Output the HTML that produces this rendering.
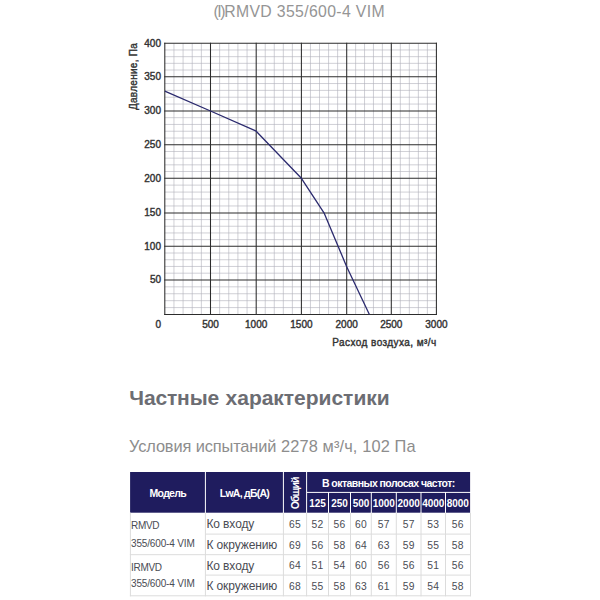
<!DOCTYPE html>
<html><head><meta charset="utf-8"><title>chart</title>
<style>
html,body{margin:0;padding:0;background:#fff;}
body{width:600px;height:600px;position:relative;overflow:hidden;font-family:"Liberation Sans",sans-serif;}
.title{position:absolute;left:0;top:1.7px;width:598.4px;text-align:center;font-size:17px;color:#959595;letter-spacing:0.37px;white-space:nowrap;transform:scaleX(0.93);transform-origin:50% 50%;}
svg{position:absolute;left:0;top:0;}
.mn{stroke:#b0b0bb;stroke-width:0.6;}
.mj{stroke:#2c2c2c;stroke-width:1.05;}
.cv{fill:none;stroke:#2b2a6e;stroke-width:1.3;stroke-linejoin:round;}
.lb{font-family:"Liberation Sans",sans-serif;font-size:10px;font-weight:normal;fill:#333;stroke:#333;stroke-width:0.4px;}
.h1{position:absolute;left:129.3px;top:385.6px;font-size:21px;letter-spacing:-0.02px;font-weight:bold;color:#6c6d73;word-spacing:0.8px;white-space:nowrap;}
.sub{position:absolute;left:129.3px;top:437.0px;font-size:16.6px;letter-spacing:0px;color:#8d8d8d;white-space:nowrap;transform:scaleX(0.987);transform-origin:0 50%;}

.hc,.bl,.bn,.bm{position:absolute;white-space:nowrap;}
.hc{color:#fff;text-align:center;font-weight:bold;font-size:10.5px;}
.hf{font-size:10px;letter-spacing:-0.05px;}
.rot{position:absolute;left:50%;top:50%;line-height:12px;transform:translate(-50%,-50%) translate(0.3px,1.3px) rotate(-90deg);letter-spacing:-0.9px;font-size:10.5px;}
.bl{font-size:12px;letter-spacing:-0.1px;color:#4a4c54;text-align:left;}
.bn{font-size:10.3px;letter-spacing:0.2px;color:#4a4c54;text-align:center;}
.bm{font-size:10px;letter-spacing:-0.3px;color:#4a4c54;text-align:left;}
</style></head><body>
<div class="title"><span style="letter-spacing:-1.5px">(I)</span>RMVD 355/600-4 VIM</div>
<svg width="600" height="600" viewBox="0 0 600 600">
<line x1="173.94" y1="43.3" x2="173.94" y2="314.5" class="mn"/>
<line x1="183.08" y1="43.3" x2="183.08" y2="314.5" class="mn"/>
<line x1="192.22" y1="43.3" x2="192.22" y2="314.5" class="mn"/>
<line x1="201.36" y1="43.3" x2="201.36" y2="314.5" class="mn"/>
<line x1="219.64" y1="43.3" x2="219.64" y2="314.5" class="mn"/>
<line x1="228.78" y1="43.3" x2="228.78" y2="314.5" class="mn"/>
<line x1="237.92" y1="43.3" x2="237.92" y2="314.5" class="mn"/>
<line x1="247.06" y1="43.3" x2="247.06" y2="314.5" class="mn"/>
<line x1="265.24" y1="43.3" x2="265.24" y2="314.5" class="mn"/>
<line x1="274.28" y1="43.3" x2="274.28" y2="314.5" class="mn"/>
<line x1="283.32" y1="43.3" x2="283.32" y2="314.5" class="mn"/>
<line x1="292.36" y1="43.3" x2="292.36" y2="314.5" class="mn"/>
<line x1="310.46" y1="43.3" x2="310.46" y2="314.5" class="mn"/>
<line x1="319.52" y1="43.3" x2="319.52" y2="314.5" class="mn"/>
<line x1="328.58" y1="43.3" x2="328.58" y2="314.5" class="mn"/>
<line x1="337.64" y1="43.3" x2="337.64" y2="314.5" class="mn"/>
<line x1="355.62" y1="43.3" x2="355.62" y2="314.5" class="mn"/>
<line x1="364.54" y1="43.3" x2="364.54" y2="314.5" class="mn"/>
<line x1="373.46" y1="43.3" x2="373.46" y2="314.5" class="mn"/>
<line x1="382.38" y1="43.3" x2="382.38" y2="314.5" class="mn"/>
<line x1="400.32" y1="43.3" x2="400.32" y2="314.5" class="mn"/>
<line x1="409.34" y1="43.3" x2="409.34" y2="314.5" class="mn"/>
<line x1="418.36" y1="43.3" x2="418.36" y2="314.5" class="mn"/>
<line x1="427.38" y1="43.3" x2="427.38" y2="314.5" class="mn"/>
<line x1="164.8" y1="49.98" x2="436.4" y2="49.98" class="mn"/>
<line x1="164.8" y1="56.66" x2="436.4" y2="56.66" class="mn"/>
<line x1="164.8" y1="63.34" x2="436.4" y2="63.34" class="mn"/>
<line x1="164.8" y1="70.02" x2="436.4" y2="70.02" class="mn"/>
<line x1="164.8" y1="83.54" x2="436.4" y2="83.54" class="mn"/>
<line x1="164.8" y1="90.38" x2="436.4" y2="90.38" class="mn"/>
<line x1="164.8" y1="97.22" x2="436.4" y2="97.22" class="mn"/>
<line x1="164.8" y1="104.06" x2="436.4" y2="104.06" class="mn"/>
<line x1="164.8" y1="117.68" x2="436.4" y2="117.68" class="mn"/>
<line x1="164.8" y1="124.46" x2="436.4" y2="124.46" class="mn"/>
<line x1="164.8" y1="131.24" x2="436.4" y2="131.24" class="mn"/>
<line x1="164.8" y1="138.02" x2="436.4" y2="138.02" class="mn"/>
<line x1="164.8" y1="151.48" x2="436.4" y2="151.48" class="mn"/>
<line x1="164.8" y1="158.16" x2="436.4" y2="158.16" class="mn"/>
<line x1="164.8" y1="164.84" x2="436.4" y2="164.84" class="mn"/>
<line x1="164.8" y1="171.52" x2="436.4" y2="171.52" class="mn"/>
<line x1="164.8" y1="185.14" x2="436.4" y2="185.14" class="mn"/>
<line x1="164.8" y1="192.08" x2="436.4" y2="192.08" class="mn"/>
<line x1="164.8" y1="199.02" x2="436.4" y2="199.02" class="mn"/>
<line x1="164.8" y1="205.96" x2="436.4" y2="205.96" class="mn"/>
<line x1="164.8" y1="219.58" x2="436.4" y2="219.58" class="mn"/>
<line x1="164.8" y1="226.26" x2="436.4" y2="226.26" class="mn"/>
<line x1="164.8" y1="232.94" x2="436.4" y2="232.94" class="mn"/>
<line x1="164.8" y1="239.62" x2="436.4" y2="239.62" class="mn"/>
<line x1="164.8" y1="253.02" x2="436.4" y2="253.02" class="mn"/>
<line x1="164.8" y1="259.74" x2="436.4" y2="259.74" class="mn"/>
<line x1="164.8" y1="266.46" x2="436.4" y2="266.46" class="mn"/>
<line x1="164.8" y1="273.18" x2="436.4" y2="273.18" class="mn"/>
<line x1="164.8" y1="286.82" x2="436.4" y2="286.82" class="mn"/>
<line x1="164.8" y1="293.74" x2="436.4" y2="293.74" class="mn"/>
<line x1="164.8" y1="300.66" x2="436.4" y2="300.66" class="mn"/>
<line x1="164.8" y1="307.58" x2="436.4" y2="307.58" class="mn"/>
<line x1="164.80" y1="42.699999999999996" x2="164.80" y2="315.1" class="mj"/>
<line x1="210.50" y1="42.699999999999996" x2="210.50" y2="315.1" class="mj"/>
<line x1="256.20" y1="42.699999999999996" x2="256.20" y2="315.1" class="mj"/>
<line x1="301.40" y1="42.699999999999996" x2="301.40" y2="315.1" class="mj"/>
<line x1="346.70" y1="42.699999999999996" x2="346.70" y2="315.1" class="mj"/>
<line x1="391.30" y1="42.699999999999996" x2="391.30" y2="315.1" class="mj"/>
<line x1="436.40" y1="42.699999999999996" x2="436.40" y2="315.1" class="mj"/>
<line x1="164.20000000000002" y1="43.30" x2="437.0" y2="43.30" class="mj"/>
<line x1="164.20000000000002" y1="76.70" x2="437.0" y2="76.70" class="mj"/>
<line x1="164.20000000000002" y1="110.90" x2="437.0" y2="110.90" class="mj"/>
<line x1="164.20000000000002" y1="144.80" x2="437.0" y2="144.80" class="mj"/>
<line x1="164.20000000000002" y1="178.20" x2="437.0" y2="178.20" class="mj"/>
<line x1="164.20000000000002" y1="212.90" x2="437.0" y2="212.90" class="mj"/>
<line x1="164.20000000000002" y1="246.30" x2="437.0" y2="246.30" class="mj"/>
<line x1="164.20000000000002" y1="279.90" x2="437.0" y2="279.90" class="mj"/>
<line x1="164.20000000000002" y1="314.50" x2="437.0" y2="314.50" class="mj"/>
<polyline class="cv" points="164.8,91.2 210.5,111.0 255.7,130.8 301.4,178.3 324,212.8 346.7,266.7 369.4,314.5"/>
<text x="161" y="46.80" text-anchor="end" class="lb">400</text>
<text x="161" y="80.20" text-anchor="end" class="lb">350</text>
<text x="161" y="114.40" text-anchor="end" class="lb">300</text>
<text x="161" y="148.30" text-anchor="end" class="lb">250</text>
<text x="161" y="181.70" text-anchor="end" class="lb">200</text>
<text x="161" y="216.40" text-anchor="end" class="lb">150</text>
<text x="161" y="249.80" text-anchor="end" class="lb">100</text>
<text x="161" y="283.40" text-anchor="end" class="lb">50</text>
<text x="210.50" y="328.3" text-anchor="middle" class="lb">500</text>
<text x="256.20" y="328.3" text-anchor="middle" class="lb">1000</text>
<text x="301.40" y="328.3" text-anchor="middle" class="lb">1500</text>
<text x="346.70" y="328.3" text-anchor="middle" class="lb">2000</text>
<text x="391.30" y="328.3" text-anchor="middle" class="lb">2500</text>
<text x="436.40" y="328.3" text-anchor="middle" class="lb">3000</text>
<text x="158.3" y="328.3" text-anchor="middle" class="lb">0</text>
<text x="436.7" y="346.3" text-anchor="end" class="lb" style="letter-spacing:0.43px">Расход воздуха, м³/ч</text>
<text transform="translate(136.5,110) rotate(-90)" class="lb" style="letter-spacing:0.27px">Давление, Па</text>
<rect x="130.10" y="472.00" width="74.80" height="40.70" fill="#1f1c5e"/>
<rect x="205.90" y="472.00" width="77.00" height="40.70" fill="#1f1c5e"/>
<rect x="283.90" y="472.00" width="22.20" height="40.70" fill="#1f1c5e"/>
<rect x="307.10" y="472.00" width="163.00" height="19.90" fill="#1f1c5e"/>
<rect x="307.10" y="492.90" width="20.90" height="19.80" fill="#1f1c5e"/>
<rect x="329.00" y="492.90" width="21.00" height="19.80" fill="#1f1c5e"/>
<rect x="351.00" y="492.90" width="19.80" height="19.80" fill="#1f1c5e"/>
<rect x="371.80" y="492.90" width="24.00" height="19.80" fill="#1f1c5e"/>
<rect x="396.80" y="492.90" width="23.70" height="19.80" fill="#1f1c5e"/>
<rect x="421.50" y="492.90" width="23.50" height="19.80" fill="#1f1c5e"/>
<rect x="446.00" y="492.90" width="24.10" height="19.80" fill="#1f1c5e"/>
<line x1="205.40" y1="534.10" x2="471.00" y2="534.10" stroke="#dcdcdc" stroke-width="1"/>
<line x1="129.90" y1="554.70" x2="471.00" y2="554.70" stroke="#dcdcdc" stroke-width="1"/>
<line x1="205.40" y1="575.10" x2="471.00" y2="575.10" stroke="#dcdcdc" stroke-width="1"/>
<line x1="129.90" y1="595.80" x2="471.00" y2="595.80" stroke="#dcdcdc" stroke-width="1"/>
<line x1="130.40" y1="512.70" x2="130.40" y2="596.30" stroke="#dcdcdc" stroke-width="1"/>
<line x1="205.40" y1="512.70" x2="205.40" y2="596.30" stroke="#dcdcdc" stroke-width="1"/>
<line x1="283.40" y1="512.70" x2="283.40" y2="596.30" stroke="#dcdcdc" stroke-width="1"/>
<line x1="306.60" y1="512.70" x2="306.60" y2="596.30" stroke="#dcdcdc" stroke-width="1"/>
<line x1="328.50" y1="512.70" x2="328.50" y2="596.30" stroke="#dcdcdc" stroke-width="1"/>
<line x1="350.50" y1="512.70" x2="350.50" y2="596.30" stroke="#dcdcdc" stroke-width="1"/>
<line x1="371.30" y1="512.70" x2="371.30" y2="596.30" stroke="#dcdcdc" stroke-width="1"/>
<line x1="396.30" y1="512.70" x2="396.30" y2="596.30" stroke="#dcdcdc" stroke-width="1"/>
<line x1="421.00" y1="512.70" x2="421.00" y2="596.30" stroke="#dcdcdc" stroke-width="1"/>
<line x1="445.50" y1="512.70" x2="445.50" y2="596.30" stroke="#dcdcdc" stroke-width="1"/>
<line x1="470.50" y1="512.70" x2="470.50" y2="596.30" stroke="#dcdcdc" stroke-width="1"/>
</svg>
<div class="h1"><span style="letter-spacing:-0.15px">Частные</span> характеристики</div>
<div class="sub"><span style="letter-spacing:-0.12px">Условия испытаний</span><span style="letter-spacing:0.12px"> 2278 м³/ч, 102 Па</span></div>
<div class="hc" style="left:130.10px;top:472.80px;width:75.30px;height:40.70px;line-height:40.70px;"><span style="letter-spacing:-0.7px">Модель</span></div>
<div class="hc" style="left:205.40px;top:472.80px;width:78.00px;height:40.70px;line-height:40.70px;"><span style="letter-spacing:-0.75px">LwA, дБ(A)</span></div>
<div class="hc" style="left:283.40px;top:472.00px;width:23.20px;height:40.70px;line-height:40.70px;"><span class="rot">Общий</span></div>
<div class="hc" style="left:306.60px;top:472.80px;width:163.50px;height:20.40px;line-height:20.40px;"><span style="letter-spacing:-0.55px">В октавных полосах частот:</span></div>
<div class="hc hf" style="left:303.60px;top:493.50px;width:27.90px;height:20.30px;line-height:20.30px;">125</div>
<div class="hc hf" style="left:325.50px;top:493.50px;width:28.00px;height:20.30px;line-height:20.30px;">250</div>
<div class="hc hf" style="left:347.50px;top:493.50px;width:26.80px;height:20.30px;line-height:20.30px;">500</div>
<div class="hc hf" style="left:368.30px;top:493.50px;width:31.00px;height:20.30px;line-height:20.30px;">1000</div>
<div class="hc hf" style="left:393.30px;top:493.50px;width:30.70px;height:20.30px;line-height:20.30px;">2000</div>
<div class="hc hf" style="left:418.00px;top:493.50px;width:30.50px;height:20.30px;line-height:20.30px;">4000</div>
<div class="hc hf" style="left:442.50px;top:493.50px;width:30.60px;height:20.30px;line-height:20.30px;">8000</div>
<div class="bl" style="left:206.40px;top:513.70px;width:82.00px;height:21.40px;line-height:21.40px;">Ко входу</div>
<div class="bn" style="left:283.40px;top:513.70px;width:23.20px;height:21.40px;line-height:21.40px;">65</div>
<div class="bn" style="left:306.60px;top:513.70px;width:21.90px;height:21.40px;line-height:21.40px;">52</div>
<div class="bn" style="left:328.50px;top:513.70px;width:22.00px;height:21.40px;line-height:21.40px;">56</div>
<div class="bn" style="left:350.50px;top:513.70px;width:20.80px;height:21.40px;line-height:21.40px;">60</div>
<div class="bn" style="left:371.30px;top:513.70px;width:25.00px;height:21.40px;line-height:21.40px;">57</div>
<div class="bn" style="left:396.30px;top:513.70px;width:24.70px;height:21.40px;line-height:21.40px;">57</div>
<div class="bn" style="left:421.00px;top:513.70px;width:24.50px;height:21.40px;line-height:21.40px;">53</div>
<div class="bn" style="left:445.50px;top:513.70px;width:24.60px;height:21.40px;line-height:21.40px;">56</div>
<div class="bl" style="left:206.40px;top:535.10px;width:82.00px;height:20.60px;line-height:20.60px;">К окружению</div>
<div class="bn" style="left:283.40px;top:535.70px;width:23.20px;height:20.60px;line-height:20.60px;">69</div>
<div class="bn" style="left:306.60px;top:535.70px;width:21.90px;height:20.60px;line-height:20.60px;">56</div>
<div class="bn" style="left:328.50px;top:535.70px;width:22.00px;height:20.60px;line-height:20.60px;">58</div>
<div class="bn" style="left:350.50px;top:535.70px;width:20.80px;height:20.60px;line-height:20.60px;">64</div>
<div class="bn" style="left:371.30px;top:535.70px;width:25.00px;height:20.60px;line-height:20.60px;">63</div>
<div class="bn" style="left:396.30px;top:535.70px;width:24.70px;height:20.60px;line-height:20.60px;">59</div>
<div class="bn" style="left:421.00px;top:535.70px;width:24.50px;height:20.60px;line-height:20.60px;">55</div>
<div class="bn" style="left:445.50px;top:535.70px;width:24.60px;height:20.60px;line-height:20.60px;">58</div>
<div class="bl" style="left:206.40px;top:555.70px;width:82.00px;height:20.40px;line-height:20.40px;">Ко входу</div>
<div class="bn" style="left:283.40px;top:556.30px;width:23.20px;height:20.40px;line-height:20.40px;">64</div>
<div class="bn" style="left:306.60px;top:556.30px;width:21.90px;height:20.40px;line-height:20.40px;">51</div>
<div class="bn" style="left:328.50px;top:556.30px;width:22.00px;height:20.40px;line-height:20.40px;">54</div>
<div class="bn" style="left:350.50px;top:556.30px;width:20.80px;height:20.40px;line-height:20.40px;">60</div>
<div class="bn" style="left:371.30px;top:556.30px;width:25.00px;height:20.40px;line-height:20.40px;">56</div>
<div class="bn" style="left:396.30px;top:556.30px;width:24.70px;height:20.40px;line-height:20.40px;">56</div>
<div class="bn" style="left:421.00px;top:556.30px;width:24.50px;height:20.40px;line-height:20.40px;">51</div>
<div class="bn" style="left:445.50px;top:556.30px;width:24.60px;height:20.40px;line-height:20.40px;">56</div>
<div class="bl" style="left:206.40px;top:576.10px;width:82.00px;height:20.70px;line-height:20.70px;">К окружению</div>
<div class="bn" style="left:283.40px;top:576.70px;width:23.20px;height:20.70px;line-height:20.70px;">68</div>
<div class="bn" style="left:306.60px;top:576.70px;width:21.90px;height:20.70px;line-height:20.70px;">55</div>
<div class="bn" style="left:328.50px;top:576.70px;width:22.00px;height:20.70px;line-height:20.70px;">58</div>
<div class="bn" style="left:350.50px;top:576.70px;width:20.80px;height:20.70px;line-height:20.70px;">63</div>
<div class="bn" style="left:371.30px;top:576.70px;width:25.00px;height:20.70px;line-height:20.70px;">61</div>
<div class="bn" style="left:396.30px;top:576.70px;width:24.70px;height:20.70px;line-height:20.70px;">59</div>
<div class="bn" style="left:421.00px;top:576.70px;width:24.50px;height:20.70px;line-height:20.70px;">54</div>
<div class="bn" style="left:445.50px;top:576.70px;width:24.60px;height:20.70px;line-height:20.70px;">58</div>
<div class="bm" style="left:131.00px;top:517.40px;width:74.40px;height:17.00px;line-height:17.00px;">RMVD</div>
<div class="bm" style="left:131.00px;top:534.70px;width:74.40px;height:17.00px;line-height:17.00px;letter-spacing:-0.15px;">355/600-4 VIM</div>
<div class="bm" style="left:131.00px;top:559.00px;width:74.40px;height:17.00px;line-height:17.00px;">IRMVD</div>
<div class="bm" style="left:131.00px;top:575.40px;width:74.40px;height:17.00px;line-height:17.00px;letter-spacing:-0.15px;">355/600-4 VIM</div>
</body></html>
